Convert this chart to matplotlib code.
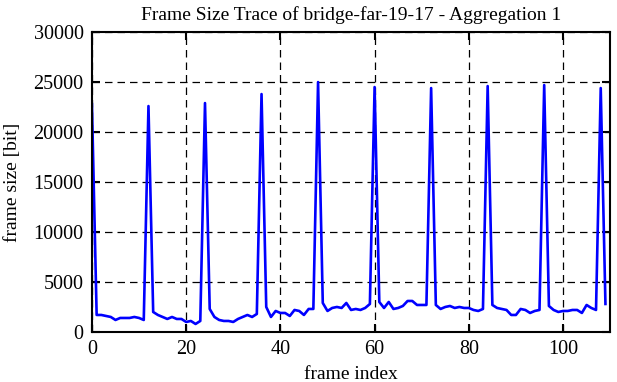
import matplotlib
matplotlib.use("Agg")
import matplotlib.pyplot as plt
import numpy as np

# frame sizes [bit], one value per frame
frame_size = [
    22800, 1700, 1700, 1600, 1500, 1200, 1400, 1400, 1400, 1500, 1400, 1200,
    22600, 2000, 1700, 1500, 1300, 1500, 1300, 1300, 1000, 1100, 800, 1100,
    22900, 2300, 1500, 1200, 1100, 1100, 1000, 1300, 1500, 1700, 1500, 1800,
    23800, 2500, 1500, 2100, 1900, 1900, 1600, 2200, 2100, 1700, 2300, 2300,
    25000, 2900, 2100, 2400, 2500, 2400, 2900, 2200, 2300, 2200, 2400, 2800,
    24500, 3000, 2400, 3000, 2300, 2400, 2600, 3100, 3100, 2700, 2700, 2700,
    24400, 2700, 2300, 2500, 2600, 2400, 2500, 2400, 2400, 2200, 2100, 2300,
    24600, 2700, 2400, 2300, 2200, 1700, 1700, 2300, 2200, 1900, 2100, 2200,
    24700, 2600, 2200, 2000, 2100, 2100, 2200, 2200, 1900, 2700, 2400, 2200,
    24400, 2800,
]
frame_index = np.arange(len(frame_size))

xticks = [0, 20, 40, 60, 80, 100]
yticks = [0, 5000, 10000, 15000, 20000, 25000, 30000]

plt.rcParams['font.family'] = ['Liberation Serif', 'DejaVu Serif']
plt.rcParams['font.size'] = 14

fig = plt.figure(figsize=(6.17, 3.82), dpi=100)
ax = fig.add_axes([0.149, 0.131, 0.8399, 0.785])

ax.plot(frame_index, frame_size, color='#0000ff', lw=1.9)

ax.set_xlim(0, 110)
ax.set_ylim(0, 30000)
ax.set_xticks(xticks)
ax.set_yticks(yticks)
ax.tick_params(direction='in', length=6, width=1.5, top=True, right=True,
               pad=6, labelsize=14.5)
for s in ax.spines.values():
    s.set_linewidth(1.5)
ax.grid(True, color='black', linestyle=(0, (6, 4)), linewidth=0.9)

ax.set_xlabel('frame index', labelpad=5)
ax.set_ylabel('frame size [bit]', labelpad=9)
ax.set_title('Frame Size Trace of bridge-far-19-17 - Aggregation 1', fontsize=14, pad=9)

fig.savefig('out.png', dpi=100)
